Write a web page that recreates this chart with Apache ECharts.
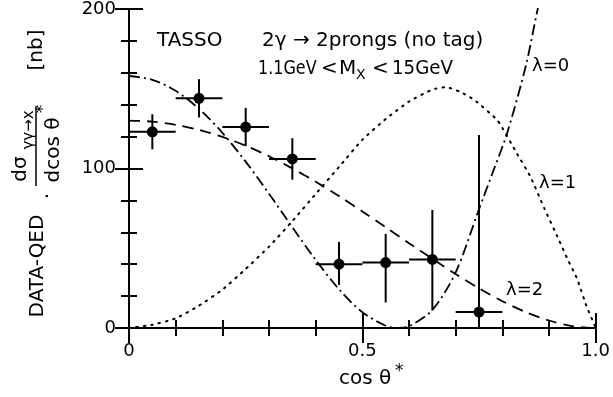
<!DOCTYPE html>
<html>
<head>
<meta charset="utf-8">
<script src="https://cdn.jsdelivr.net/npm/echarts@6/dist/echarts.min.js"></script>
<style>
html,body{margin:0;padding:0;background:#fff;}
#chart{width:613px;height:397px;}
</style>
</head>
<body>
<div id="chart"></div>
<script>
// ---- data ----
const binCenter = [0.05, 0.15, 0.25, 0.35, 0.45, 0.55, 0.65, 0.75];
const binLow    = [0.00, 0.10, 0.20, 0.30, 0.40, 0.50, 0.60, 0.70];
const binHigh   = [0.10, 0.20, 0.30, 0.40, 0.50, 0.60, 0.70, 0.80];
const dataValue = [123, 144, 126, 106, 40, 41, 43, 10];
const errUp     = [11, 12, 12, 13, 14, 18, 31, 111];
const errDown   = [11, 12, 12, 13, 13, 25, 32, 10];

// lambda = 0 (dash-dot)
const lam0X = [0, 0.05, 0.1, 0.15, 0.2, 0.25, 0.3, 0.35, 0.4, 0.45, 0.5, 0.55, 0.577, 0.6, 0.65, 0.7, 0.75, 0.78, 0.81, 0.85, 0.875, 0.885];
const lam0Y = [158, 155.6, 148.7, 137.4, 122.4, 104.3, 84.2, 63.2, 42.7, 24.3, 9.9, 1.4, 0, 1.0, 11.3, 34.9, 74.5, 98, 122, 164, 199, 212];
// lambda = 1 (dotted)
const lam1X = [0, 0.05, 0.1, 0.15, 0.2, 0.25, 0.3, 0.35, 0.4, 0.45, 0.5, 0.55, 0.6, 0.65, 0.68, 0.71, 0.74, 0.79, 0.83, 0.86, 0.89, 0.92, 0.94, 0.96, 0.98, 1.0];
const lam1Y = [0, 2, 6, 14, 24, 37, 51, 67, 84, 101, 118, 131, 142, 149.5, 151, 148, 143, 130, 110, 95, 75, 56, 43, 31, 14, 0];
// lambda = 2 (dashed)
const lam2X = [0, 0.05, 0.1, 0.15, 0.2, 0.25, 0.3, 0.35, 0.4, 0.45, 0.5, 0.55, 0.6, 0.65, 0.7, 0.75, 0.8, 0.85, 0.9, 0.95, 1.0];
const lam2Y = [130, 129.4, 127.4, 124.2, 119.8, 114.3, 107.7, 100.1, 91.7, 82.7, 73.1, 63.2, 53.2, 43.4, 33.8, 24.9, 16.8, 10.0, 4.7, 1.2, 0];

const xTickValues = [0, 0.5, 1.0];
const xTickLabels = ['0', '0.5', '1.0'];
const yTickValues = [0, 100, 200];
const yTickLabels = ['0', '100', '200'];

// ---- chart ----
const FONT = 'DejaVu Sans';
const pairs = (xs, ys) => xs.map((x, i) => [x, ys[i]]);
const errData = binCenter.map((x, i) => [x, dataValue[i], binLow[i], binHigh[i], dataValue[i] - errDown[i], dataValue[i] + errUp[i]]);

function labelFor(values, labels) {
  return function (v) {
    for (let i = 0; i < values.length; i++) if (Math.abs(values[i] - v) < 1e-9) return labels[i];
    return '';
  };
}

const axisCommon = {
  type: 'value',
  axisLine: { show: true, lineStyle: { color: '#000', width: 2 } },
  axisTick: { show: true, inside: true, length: 15, lineStyle: { color: '#000', width: 2 } },
  minorTick: { show: true, splitNumber: 5, length: 8, lineStyle: { color: '#000', width: 2 } },
  splitLine: { show: false },
  minorSplitLine: { show: false }
};

const xAxisBase = Object.assign({}, axisCommon, { min: 0, max: 1, interval: 0.5 });
const yAxisBase = Object.assign({}, axisCommon, { min: 0, max: 200, interval: 100,
  axisTick: { show: true, inside: true, length: 14, lineStyle: { color: '#000', width: 2 } } });

const chart = echarts.init(document.getElementById('chart'), null, { renderer: 'canvas' });

const rot = Math.PI / 2;
const txt = (x, y, text, size, align, vAlign, rotation, scaleX) => ({
  type: 'text', x: x, y: y, rotation: rotation || 0, scaleX: scaleX || 1,
  style: { text: text, fill: '#000', font: size + 'px "' + FONT + '"', textAlign: align || 'left', textVerticalAlign: vAlign || 'middle' },
  z: 100
});

chart.setOption({
  animation: false,
  backgroundColor: '#fff',
  grid: { left: 129, right: 16, top: 9, bottom: 69, containLabel: false },
  xAxis: [
    Object.assign({}, xAxisBase, { position: 'bottom',
      axisLabel: { show: true, color: '#000', fontFamily: FONT, fontSize: 18, margin: 14, formatter: labelFor(xTickValues, xTickLabels) } }),
    Object.assign({}, xAxisBase, { position: 'top', axisLabel: { show: false } })
  ],
  yAxis: [
    Object.assign({}, yAxisBase, { position: 'left',
      axisLabel: { show: true, color: '#000', fontFamily: FONT, fontSize: 18, margin: 13, formatter: labelFor(yTickValues, yTickLabels) } }),
    Object.assign({}, yAxisBase, { position: 'right', axisLabel: { show: false } })
  ],
  series: [
    { type: 'line', data: pairs(lam0X, lam0Y), showSymbol: false, smooth: 0.3, clip: true,
      lineStyle: { color: '#000', width: 1.8, type: [11, 4, 2, 4] } },
    { type: 'line', data: pairs(lam1X, lam1Y), showSymbol: false, smooth: 0.15, clip: true,
      lineStyle: { color: '#000', width: 2, type: [1.5, 6], cap: 'round' } },
    { type: 'line', data: pairs(lam2X, lam2Y), showSymbol: false, smooth: 0.3, clip: true,
      lineStyle: { color: '#000', width: 1.8, type: [11, 7] } },
    { type: 'custom', data: errData, clip: true,
      renderItem: function (params, api) {
        const x = api.value(0), y = api.value(1);
        const c = api.coord([x, y]);
        const l = api.coord([api.value(2), y]);
        const r = api.coord([api.value(3), y]);
        const b = api.coord([x, api.value(4)]);
        const t = api.coord([x, api.value(5)]);
        return { type: 'group', children: [
          { type: 'line', shape: { x1: l[0], y1: l[1], x2: r[0], y2: r[1] }, style: { stroke: '#000', lineWidth: 2 } },
          { type: 'line', shape: { x1: t[0], y1: t[1], x2: b[0], y2: b[1] }, style: { stroke: '#000', lineWidth: 2 } },
          { type: 'circle', shape: { cx: c[0], cy: c[1], r: 5.5 }, style: { fill: '#000' } }
        ] };
      } }
  ],
  graphic: [
    txt(157, 41, 'TASSO', 20),
    txt(262, 41, '2γ → 2prongs (no tag)', 20),
    txt(258, 69, '1.1GeV', 20, 'left', 'middle', 0, 0.8),
    txt(321, 69, '<', 20),
    txt(339, 69, 'M', 20),
    txt(356, 75, 'X', 14),
    txt(372, 69, '<', 20),
    txt(392, 69, '15GeV', 20, 'left', 'middle', 0, 0.91),
    txt(532, 66, 'λ=0', 18),
    txt(539, 183, 'λ=1', 18),
    txt(506, 290, 'λ=2', 18),
    // x-axis title
    txt(339, 379, 'cos θ', 20),
    txt(395, 372, '*', 17),
    // y-axis title (rotated)
    txt(38, 266, 'DATA-QED', 20, 'center', 'middle', rot),
    txt(49, 196, '·', 20, 'center', 'middle', rot),
    txt(21, 169, 'dσ', 20, 'center', 'middle', rot),
    txt(29, 130, 'γγ→x', 15, 'center', 'middle', rot),
    { type: 'line', shape: { x1: 36, y1: 106, x2: 36, y2: 186 }, style: { stroke: '#000', lineWidth: 1.5 }, z: 100 },
    txt(54, 150, 'dcos θ', 20, 'center', 'middle', rot),
    txt(44, 109, '*', 17, 'center', 'middle', rot),
    txt(37, 50, '[nb]', 20, 'center', 'middle', rot)
  ]
});
</script>
</body>
</html>
